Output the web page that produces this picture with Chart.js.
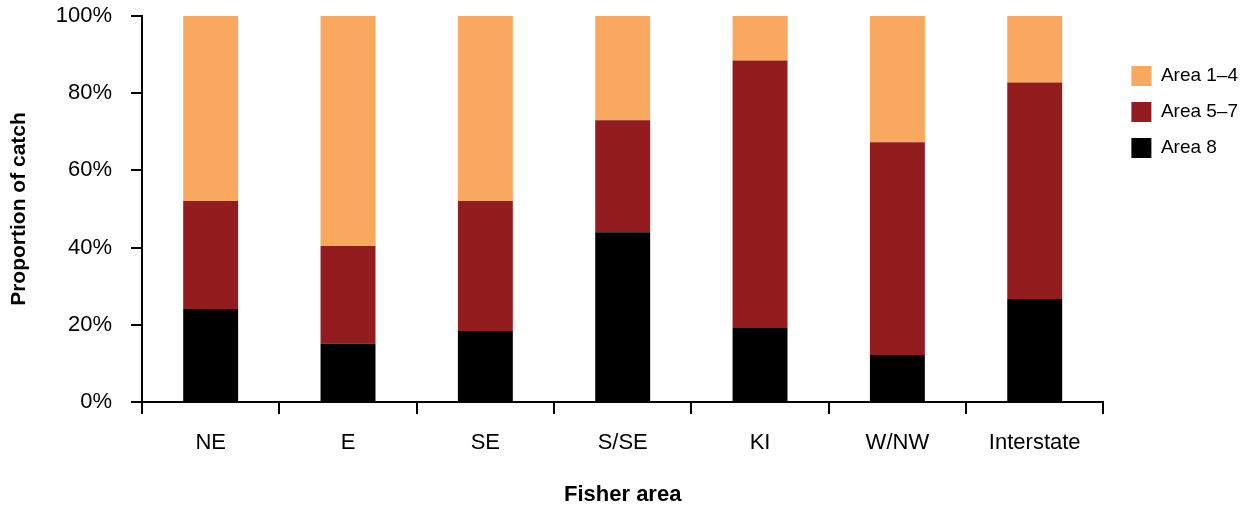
<!DOCTYPE html>
<html>
<head>
<meta charset="utf-8">
<script src="https://cdn.jsdelivr.net/npm/chart.js@4/dist/chart.umd.min.js"></script>
<style>
  html, body { margin: 0; padding: 0; background: #fff; }
  #wrap { width: 1248px; height: 508px; }
</style>
</head>
<body>
<div id="wrap"><canvas id="c" width="1248" height="508"></canvas></div>
<script>
const categories = ["NE", "E", "SE", "S/SE", "KI", "W/NW", "Interstate"];
const area8 = [24.1, 15.1, 18.4, 44.0, 19.2, 12.2, 26.7];
const area5to7 = [28.0, 25.3, 33.7, 29.0, 69.3, 55.1, 56.1];
const area1to4 = [47.9, 59.6, 47.9, 27.0, 11.5, 32.7, 17.2];
const yTicks = [0, 20, 40, 60, 80, 100];
const seriesNames = ["Area 8", "Area 5\u20137", "Area 1\u20134"];
const seriesColors = ["#000000", "#931C1F", "#F9A860"];

const FONT = "'Liberation Sans', Arial, Helvetica, sans-serif";
Chart.defaults.color = "#000";
Chart.defaults.font.family = FONT;

const seriesData = [area8, area5to7, area1to4];
const datasets = seriesData.map((d, i) => ({
  label: seriesNames[i],
  data: d,
  backgroundColor: seriesColors[i],
  borderWidth: 0,
  barPercentage: 0.4,
  categoryPercentage: 1.0,
  stack: "s"
}));

new Chart(document.getElementById("c"), {
  type: "bar",
  data: { labels: categories, datasets },
  options: {
    responsive: false,
    animation: false,
    layout: { padding: { top: 0, left: 0, right: 0, bottom: 0 } },
    plugins: {
      tooltip: { enabled: false },
      legend: {
        position: "right",
        align: "start",
        reverse: true,
        title: { display: true, text: " ", font: { size: 10 }, padding: { top: 38, bottom: 0 } },
        labels: {
          boxWidth: 20,
          boxHeight: 20,
          padding: 16,
          color: "#000",
          font: { size: 19, family: FONT }
        }
      }
    },
    scales: {
      x: {
        stacked: true,
        grid: {
          display: true,
          offset: true,
          drawOnChartArea: false,
          drawTicks: true,
          tickLength: 12,
          tickWidth: 2,
          tickColor: "#000",
          lineWidth: 2,
          color: "#000"
        },
        border: { display: true, color: "#000", width: 2 },
        ticks: { font: { size: 22, family: FONT }, color: "#000", padding: 16, maxRotation: 0, autoSkip: false },
        title: {
          display: true,
          text: "Fisher area",
          color: "#000",
          font: { size: 22, weight: "bold", family: FONT },
          padding: { top: 13, bottom: 0 }
        },
        afterFit(s) { s.height = 106; }
      },
      y: {
        stacked: true,
        min: 0,
        max: 100,
        afterBuildTicks(s) { s.ticks = yTicks.map(v => ({ value: v })); },
        grid: {
          display: true,
          drawOnChartArea: false,
          drawTicks: true,
          tickLength: 11,
          tickWidth: 2,
          tickColor: "#000",
          lineWidth: 2,
          color: "#000"
        },
        border: { display: true, color: "#000", width: 2 },
        ticks: {
          font: { size: 22, family: FONT },
          color: "#000",
          padding: 19,
          callback: v => v + "%"
        },
        title: {
          display: true,
          text: "Proportion of catch",
          color: "#000",
          font: { size: 21, weight: "bold", family: FONT },
          padding: { top: 7, bottom: 3 }
        },
        afterFit(s) { s.width = 142; s.paddingTop = 16; }
      },
      yR: {
        type: "linear",
        position: "right",
        display: true,
        grid: { display: false, drawTicks: false },
        border: { display: false },
        ticks: { display: false },
        afterFit(s) { s.width = 12; s.paddingTop = 0; s.paddingBottom = 0; }
      }
    }
  }
});
</script>
</body>
</html>
